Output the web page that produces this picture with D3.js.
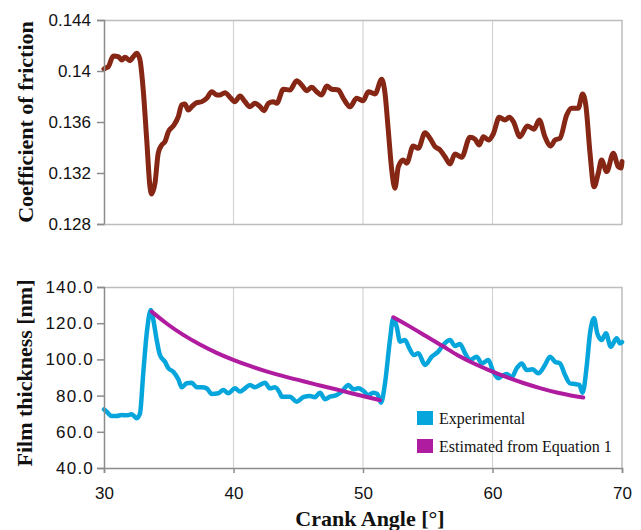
<!DOCTYPE html>
<html><head><meta charset="utf-8">
<script src="https://cdn.jsdelivr.net/npm/d3@7"></script>
<style>
body{margin:0;background:#fff;}
svg{display:block;}
.serif{font-family:"Liberation Serif","Times New Roman","DejaVu Serif",serif;}
.sans{font-family:"Liberation Sans",Arial,sans-serif;}
</style></head>
<body>
<svg id="chart" width="641" height="530"></svg>
<script>
// ---- data ----
const xTicks = [30, 40, 50, 60, 70];
const frictionTicks = [0.128, 0.132, 0.136, 0.14, 0.144];
const frictionTickLabels = ["0.128", "0.132", "0.136", "0.14", "0.144"];
const filmTicks = [40, 60, 80, 100, 120, 140];
const filmTickLabels = ["40.0", "60.0", "80.0", "100.0", "120.0", "140.0"];

const frictionAngle = [30.0,30.08,30.33,30.72,31.10,31.37,31.62,32.01,32.26,32.53,32.78,33.03,33.30,33.55,33.68,33.94,34.19,34.46,34.71,34.97,35.35,35.74,36.00,36.25,36.51,36.77,37.16,37.54,37.93,38.32,38.70,38.96,39.34,39.73,40.12,40.50,40.89,41.27,41.66,42.05,42.36,42.69,43.07,43.34,43.85,44.36,44.88,45.26,45.65,46.04,46.42,46.81,47.20,47.58,48.09,48.48,49.00,49.51,50.02,50.41,50.93,51.44,51.70,51.95,52.22,52.47,52.73,53.11,53.37,53.88,54.27,54.79,55.17,55.56,55.95,56.33,56.72,57.10,57.62,58.26,58.65,58.98,59.29,59.68,60.06,60.52,60.96,61.30,61.61,62.12,62.69,63.20,63.61,64.05,64.49,64.83,65.21,65.73,66.11,66.62,66.96,67.22,67.53,67.84,68.17,68.42,68.82,69.33,69.71,69.93,70.0];
const frictionValue = [0.14015,0.14021,0.14034,0.14118,0.14112,0.14086,0.14108,0.14081,0.14112,0.14139,0.14086,0.13851,0.13459,0.13093,0.13036,0.13122,0.13357,0.13420,0.13446,0.13524,0.13569,0.13642,0.13734,0.13741,0.13694,0.13720,0.13752,0.13759,0.13786,0.13838,0.13812,0.13812,0.13830,0.13794,0.13759,0.13804,0.13759,0.13720,0.13747,0.13720,0.13689,0.13747,0.13759,0.13747,0.13857,0.13851,0.13924,0.13890,0.13846,0.13872,0.13838,0.13812,0.13883,0.13857,0.13851,0.13786,0.13720,0.13786,0.13767,0.13838,0.13820,0.13935,0.13825,0.13538,0.13224,0.13081,0.13250,0.13302,0.13277,0.13412,0.13394,0.13516,0.13473,0.13407,0.13381,0.13328,0.13271,0.13349,0.13324,0.13480,0.13465,0.13420,0.13485,0.13459,0.13506,0.13637,0.13616,0.13637,0.13603,0.13485,0.13569,0.13543,0.13616,0.13485,0.13412,0.13459,0.13473,0.13655,0.13708,0.13708,0.13820,0.13720,0.13355,0.13093,0.13198,0.13302,0.13211,0.13355,0.13250,0.13240,0.13290];

const filmAngle = [30.0,30.21,30.59,30.98,31.37,31.75,32.14,32.53,32.78,33.03,33.30,33.61,33.81,34.07,34.32,34.71,34.97,35.35,35.74,36.00,36.39,36.77,37.16,37.54,37.93,38.32,38.83,39.21,39.60,40.12,40.50,40.89,41.27,41.66,42.05,42.43,42.82,43.20,43.59,43.72,44.36,44.88,45.39,45.91,46.29,46.68,47.07,47.45,47.97,48.36,48.87,49.26,49.64,50.02,50.41,50.80,51.10,51.39,51.70,52.08,52.34,52.60,52.86,53.24,53.58,53.94,54.27,54.79,55.31,55.81,56.20,56.72,57.10,57.49,57.88,58.26,58.78,59.17,59.68,60.06,60.45,60.71,61.10,61.48,61.87,62.26,62.64,63.10,63.54,64.05,64.44,64.83,65.21,65.60,65.98,66.37,66.70,66.96,67.27,67.53,67.84,68.09,68.43,68.76,69.13,69.59,69.85,70.0];
const filmValue = [72.4,71.1,68.7,68.7,69.3,69.1,69.7,67.5,70.2,92.3,114.4,127.3,121.8,110.7,102.4,98.7,95.1,93.2,89.0,84.6,86.8,87.1,84.6,84.6,84.0,80.9,81.3,83.1,81.3,84.0,82.2,84.0,85.9,84.6,85.9,87.1,84.0,84.6,81.3,79.4,79.4,76.6,79.1,79.8,79.1,81.6,78.0,79.4,80.3,82.2,85.9,83.5,84.0,82.7,80.3,81.6,80.9,76.1,86.8,110.7,122.7,118.1,109.8,110.7,106.1,102.4,103.4,96.9,101.5,104.3,108.0,110.7,107.4,108.5,103.4,99.7,101.5,97.8,99.7,93.2,89.6,90.8,91.9,90.1,95.1,97.8,94.1,94.5,92.3,96.9,101.5,98.7,97.8,91.4,86.8,86.4,85.9,81.6,96.0,114.4,122.7,114.4,110.7,114.4,107.0,111.7,108.9,109.6];

const est1Angle = [33.68,34.84,36.12,37.41,38.70,39.98,41.27,42.56,44.11,45.39,46.68,47.97,49.25,50.54,51.31];
const est1Value = [126.4,119.6,113.4,108.1,103.5,99.7,96.3,93.3,90.2,87.9,85.6,83.4,81.0,78.8,77.5];
const est2Angle = [52.34,53.63,54.92,56.20,57.24,58.52,59.81,61.10,62.38,63.67,64.96,66.24,67.01];
const est2Value = [123.3,118.2,112.6,107.3,102.4,97.8,93.8,90.1,86.9,84.1,81.6,79.8,78.9];

const legendLabels = ["Experimental", "Estimated from Equation 1"];
const seriesColors = ["#06a6dd", "#b01c9f"];

// ---- drawing ----
const svg = d3.select("#chart");
const x = d3.scaleLinear().domain([30, 70]).range([104, 622]);
const yTop = d3.scaleLinear().domain([0.128, 0.144]).range([224, 20]);
const yBot = d3.scaleLinear().domain([40, 140]).range([468, 287]);

const gridColor = "#d4d4d4", frameColor = "#bdbdbd", axisColor = "#8c8c8c";

function panel(top, bottom) {
  const g = svg.append("g");
  g.selectAll("line.grid").data(xTicks.slice(1, -1)).enter().append("line")
    .attr("x1", d => x(d)).attr("x2", d => x(d))
    .attr("y1", top).attr("y2", bottom)
    .attr("stroke", gridColor).attr("stroke-width", 1.2);
  g.append("line").attr("x1", x(30)).attr("x2", x(70)).attr("y1", top + 0.5).attr("y2", top + 0.5)
    .attr("stroke", frameColor).attr("stroke-width", 1.5);
  g.append("line").attr("x1", x(70)).attr("x2", x(70)).attr("y1", top).attr("y2", bottom)
    .attr("stroke", frameColor).attr("stroke-width", 1.5);
  return g;
}
function styleTicks(sel) {
  sel.attr("font-family", null).attr("font-size", null);
  sel.selectAll(".tick text").attr("class", "sans").style("font-size", "17px").attr("fill", "#111");
}

// top panel
const gT = panel(20, 224);
const axT = svg.append("g").attr("transform", `translate(${x(30)},0)`)
  .call(d3.axisLeft(yTop).tickValues(frictionTicks).tickSize(7).tickPadding(6)
    .tickFormat((d, i) => frictionTickLabels[i]));
axT.select(".domain").attr("stroke", axisColor).attr("stroke-width", 1.5);
axT.selectAll(".tick line").attr("stroke", axisColor).attr("stroke-width", 1.5);
styleTicks(axT);
const axTb = svg.append("g").attr("transform", `translate(0,224)`)
  .call(d3.axisBottom(x).tickValues(xTicks).tickSize(0).tickFormat(""));
axTb.select(".domain").attr("stroke", frameColor).attr("stroke-width", 1.5);

gT.append("path").datum(frictionAngle.map((a, i) => [a, frictionValue[i]]))
  .attr("fill", "none").attr("stroke", "#862614").attr("stroke-width", 5)
  .attr("stroke-linejoin", "round").attr("stroke-linecap", "round")
  .attr("d", d3.line().x(d => x(d[0])).y(d => yTop(d[1])).curve(d3.curveMonotoneX));

// bottom panel
const gB = panel(287, 468);
const axB = svg.append("g").attr("transform", `translate(${x(30)},0)`)
  .call(d3.axisLeft(yBot).tickValues(filmTicks).tickSize(7).tickPadding(3)
    .tickFormat((d, i) => filmTickLabels[i]));
axB.select(".domain").attr("stroke", axisColor).attr("stroke-width", 1.5);
axB.selectAll(".tick line").attr("stroke", axisColor).attr("stroke-width", 1.5);
styleTicks(axB);
axB.selectAll(".tick text").style("letter-spacing", "1.2px");
const axBx = svg.append("g").attr("transform", `translate(0,468)`)
  .call(d3.axisBottom(x).tickValues(xTicks).tickSize(5).tickPadding(14));
axBx.select(".domain").attr("stroke", axisColor).attr("stroke-width", 1.5);
axBx.selectAll(".tick line").attr("stroke", axisColor).attr("stroke-width", 1.5);
styleTicks(axBx);

const lineB = d3.line().x(d => x(d[0])).y(d => yBot(d[1])).curve(d3.curveMonotoneX);
gB.append("path").datum(filmAngle.map((a, i) => [a, filmValue[i]]))
  .attr("fill", "none").attr("stroke", seriesColors[0]).attr("stroke-width", 4.5)
  .attr("stroke-linejoin", "round").attr("stroke-linecap", "round").attr("d", lineB);
[[est1Angle, est1Value], [est2Angle, est2Value]].forEach(([A, V]) => {
  gB.append("path").datum(A.map((a, i) => [a, V[i]]))
    .attr("fill", "none").attr("stroke", seriesColors[1]).attr("stroke-width", 4)
    .attr("stroke-linecap", "round").attr("d", lineB.curve(d3.curveBasis));
});

// legend
const leg = svg.append("g").attr("transform", "translate(417,411)");
legendLabels.forEach((t, i) => {
  leg.append("rect").attr("x", 0).attr("y", i * 28).attr("width", 16).attr("height", 14).attr("fill", seriesColors[i]);
  leg.append("text").attr("class", "serif").attr("x", 22).attr("y", i * 28 + 13)
    .style("font-size", "16px").attr("fill", "#111").text(t);
});

// axis titles
function title(tr, txt) {
  return svg.append("text").attr("class", "serif").attr("transform", tr).attr("text-anchor", "middle")
    .style("font-weight", "bold").style("font-size", "22px").attr("fill", "#111").text(txt);
}
title("translate(33,122) rotate(-90)", "Coefficient of friction");
title("translate(32,373) rotate(-90)", "Film thickness [nm]");
title("translate(370,526)", "Crank Angle [°]");
</script>
</body></html>
